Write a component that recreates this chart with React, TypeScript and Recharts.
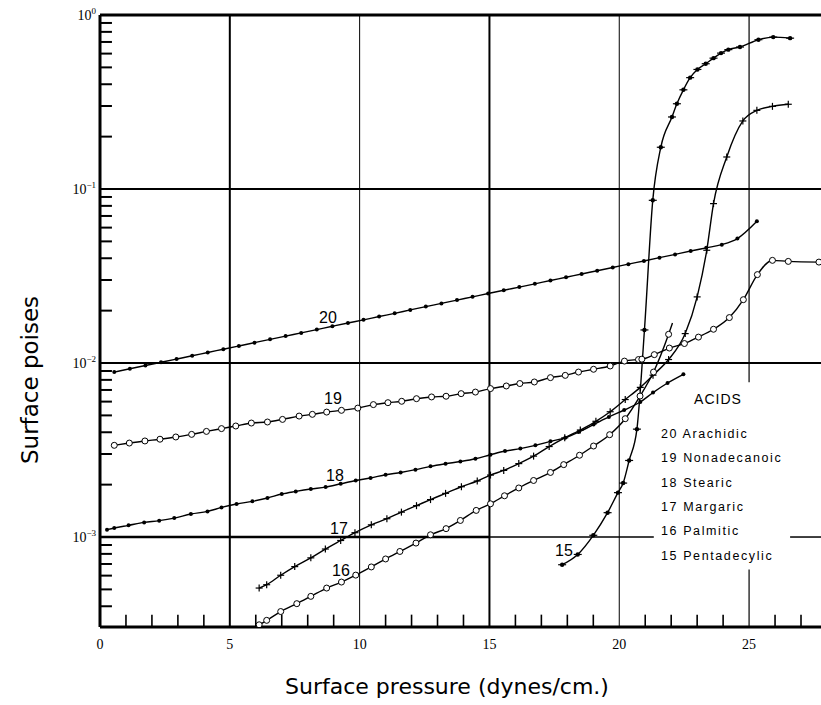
import React from "react";
import { LineChart, Line, XAxis, YAxis, ReferenceLine } from "recharts";

// axis ticks
const xTicks = [0, 5, 10, 15, 20, 25];
const xMinor = [1, 2, 3, 4, 6, 7, 8, 9, 11, 12, 13, 14, 16, 17, 18, 19, 21, 22, 23, 24, 26, 27];
const yTicks = [0.001, 0.01, 0.1, 1];
const yMinor = [
  0.0004, 0.0005, 0.0006, 0.0007, 0.0008, 0.0009,
  0.002, 0.003, 0.004, 0.005, 0.006, 0.007, 0.008, 0.009,
  0.02, 0.03, 0.04, 0.05, 0.06, 0.07, 0.08, 0.09,
  0.2, 0.3, 0.4, 0.5, 0.6, 0.7, 0.8, 0.9,
];

// 20 Arachidic
const x20 = [0.55, 1.15, 1.75, 2.35, 2.95, 3.55, 4.15, 4.75, 5.35, 5.95, 6.55, 7.15, 7.75, 8.35, 8.95, 9.55, 10.15, 10.75, 11.35, 11.95, 12.55, 13.15, 13.75, 14.35, 14.95, 15.55, 16.15, 16.75, 17.35, 17.95, 18.55, 19.15, 19.75, 20.35, 20.95, 21.55, 22.15, 22.75, 23.35, 23.95, 24.55, 25.3];
const y20 = [0.00887, 0.00927, 0.00968, 0.0101, 0.01054, 0.011, 0.0115, 0.012, 0.01253, 0.01309, 0.01368, 0.01428, 0.0149, 0.01556, 0.01626, 0.01698, 0.0177, 0.0185, 0.0193, 0.0202, 0.0211, 0.022, 0.023, 0.024, 0.0251, 0.0262, 0.0273, 0.0285, 0.0298, 0.0311, 0.0325, 0.0339, 0.0354, 0.037, 0.0386, 0.0403, 0.0421, 0.044, 0.0459, 0.0479, 0.0519, 0.0652];

// 19 Nonadecanoic
const x19 = [0.55, 1.13, 1.73, 2.31, 2.92, 3.53, 4.1, 4.68, 5.23, 5.83, 6.45, 7.03, 7.67, 8.18, 8.73, 9.3, 9.93, 10.53, 11.09, 11.62, 12.19, 12.77, 13.33, 13.91, 14.46, 15.04, 15.65, 16.17, 16.73, 17.35, 17.92, 18.43, 19.01, 19.65, 20.2, 20.74, 20.87, 21.35, 21.93, 22.51, 23.05, 23.63, 24.24, 24.78, 25.32, 25.9, 26.51, 27.69];
const y19 = [0.003365, 0.003467, 0.003565, 0.003648, 0.003758, 0.00389, 0.004046, 0.004198, 0.004345, 0.004519, 0.004581, 0.004742, 0.004955, 0.00507, 0.005224, 0.005346, 0.005508, 0.005768, 0.005916, 0.006026, 0.006237, 0.006383, 0.006442, 0.006668, 0.006808, 0.007129, 0.007379, 0.007621, 0.00778, 0.008241, 0.008492, 0.008872, 0.009204, 0.009616, 0.010257, 0.010471, 0.01052, 0.01117, 0.01219, 0.01294, 0.01409, 0.01563, 0.01824, 0.02312, 0.03221, 0.0389, 0.03837, 0.03802];

// 18 Stearic
const x18 = [0.27, 0.55, 1.1, 1.7, 2.28, 2.86, 3.5, 4.14, 4.68, 5.26, 5.87, 6.45, 7.0, 7.54, 8.12, 8.69, 9.27, 9.85, 10.42, 11.0, 11.58, 12.15, 12.73, 13.31, 13.88, 14.46, 15.04, 15.6, 16.19, 16.77, 17.35, 17.92, 18.43, 19.01, 19.6, 20.19, 20.81, 21.3, 21.86, 22.47];
const y18 = [0.001102, 0.001127, 0.001167, 0.001213, 0.001242, 0.001285, 0.001355, 0.001403, 0.001479, 0.001549, 0.001603, 0.001675, 0.001766, 0.001828, 0.001888, 0.001936, 0.002023, 0.002113, 0.002183, 0.00228, 0.00235, 0.002438, 0.002547, 0.002636, 0.002716, 0.002818, 0.002972, 0.003119, 0.003221, 0.003365, 0.003548, 0.003724, 0.004009, 0.004426, 0.004898, 0.00537, 0.00597, 0.006761, 0.007674, 0.00861];

// 17 Margaric
const x17 = [6.13, 6.42, 6.96, 7.5, 8.12, 8.68, 9.27, 9.82, 10.45, 11.05, 11.61, 12.19, 12.73, 13.31, 13.92, 14.53, 15.04, 15.55, 16.13, 16.7, 17.3, 17.9, 18.5, 19.1, 19.65, 20.23, 20.81, 21.3, 21.9, 22.54, 23.0, 23.37, 23.63, 24.14, 24.76, 25.3, 25.9, 26.51];
const y17 = [0.000509, 0.000532, 0.000603, 0.000676, 0.000759, 0.000853, 0.000955, 0.001059, 0.001175, 0.001274, 0.00139, 0.001514, 0.001641, 0.001782, 0.001945, 0.002099, 0.00227, 0.002415, 0.002642, 0.002917, 0.003311, 0.003715, 0.004121, 0.004624, 0.005248, 0.006166, 0.007244, 0.008511, 0.010471, 0.014757, 0.02399, 0.04446, 0.08241, 0.15276, 0.24604, 0.28314, 0.29854, 0.3069];

// 16 Palmitic
const x16 = [6.13, 6.42, 6.96, 7.58, 8.12, 8.73, 9.3, 9.85, 10.45, 11.0, 11.55, 12.17, 12.73, 13.33, 13.88, 14.49, 15.04, 15.58, 16.13, 16.7, 17.35, 17.86, 18.47, 19.01, 19.63, 20.23, 20.8, 21.32, 21.9, 22.05];
const y16 = [0.000313, 0.000332, 0.000373, 0.000414, 0.000456, 0.000509, 0.000551, 0.000604, 0.000673, 0.000748, 0.000826, 0.000923, 0.00103, 0.001117, 0.001245, 0.001422, 0.001552, 0.001726, 0.001914, 0.002113, 0.00235, 0.002606, 0.002951, 0.003334, 0.003873, 0.004786, 0.006457, 0.008872, 0.014622, 0.016982];

// 15 Pentadecylic
const x15 = [17.8, 18.4, 19.0, 19.55, 19.95, 20.15, 20.38, 20.68, 20.97, 21.29, 21.6, 22.03, 22.22, 22.47, 22.73, 23.01, 23.33, 23.63, 23.92, 24.2, 24.65, 25.36, 25.93, 26.58];
const y15 = [0.000693, 0.000794, 0.001023, 0.00138, 0.001799, 0.002042, 0.002754, 0.004169, 0.015488, 0.086099, 0.17378, 0.259418, 0.30903, 0.371535, 0.436516, 0.486407, 0.524807, 0.564937, 0.603949, 0.632412, 0.654636, 0.721107, 0.746449, 0.736207];

const legendItems = ["20 Arachidic", "19 Nonadecanoic", "18 Stearic", "17 Margaric", "16 Palmitic", "15 Pentadecylic"];

const zip = (xs: number[], ys: number[]) => xs.map((x, i) => ({ x, y: ys[i] }));

const s20 = zip(x20, y20);
const s19 = zip(x19, y19);
const s18 = zip(x18, y18);
const s17 = zip(x17, y17);
const s16 = zip(x16, y16);
const s15 = zip(x15, y15);

const X_MAX = 27.77;
const Y_MIN = 0.000304;
// inner tick lengths in data units (about 12px)
const X_TICK_LEN = 0.46;
const Y_TICK_BASE = 0.000306;
const Y_TICK_TOP = 0.000358;

const FilledDot = (p: any) => <circle key={`f${p.index}`} cx={p.cx} cy={p.cy} r={2} fill="#000" />;
const OpenDot = (p: any) => (
  <circle key={`o${p.index}`} cx={p.cx} cy={p.cy} r={3} fill="#fff" stroke="#000" strokeWidth={1} />
);
const OpenDot16 = (p: any) =>
  p.index === x16.length - 1 ? <g key={`o${p.index}`} /> : OpenDot(p);
const PlusDot = (p: any) => (
  <g key={`p${p.index}`}>
    <line x1={p.cx - 3.5} x2={p.cx + 3.5} y1={p.cy} y2={p.cy} stroke="#000" strokeWidth={1.2} />
    <line x1={p.cx} x2={p.cx} y1={p.cy - 3.5} y2={p.cy + 3.5} stroke="#000" strokeWidth={1.2} />
  </g>
);
const DashDot = (p: any) => (
  <g key={`d${p.index}`}>
    <line x1={p.cx - 4} x2={p.cx + 4} y1={p.cy} y2={p.cy} stroke="#000" strokeWidth={1.2} />
    <circle cx={p.cx} cy={p.cy} r={2.2} fill="#000" />
  </g>
);

const expLabel: Record<number, string> = { 1: "0", 0.1: "−1", 0.01: "−2", 0.001: "−3" };

const YTick = (p: any) => (
  <text x={96} y={p.y + 5} textAnchor="end" fontFamily="Liberation Serif, serif" fontSize={14} fill="#000">
    10
    <tspan dy={-6} fontSize={9}>{expLabel[p.payload.value]}</tspan>
  </text>
);

const XTick = (p: any) => (
  <text x={p.x} y={649} textAnchor="middle" fontFamily="Liberation Serif, serif" fontSize={14} fill="#000">
    {p.payload.value}
  </text>
);

const letterFont = "DejaVu Sans, sans-serif";

export default function App() {
  return (
    <div style={{ position: "absolute", left: 0, top: 0, width: 821, height: 705, background: "#fff" }}>
      <LineChart width={821} height={705} margin={{ top: 15, right: 0, bottom: 0, left: 0 }}>
        <XAxis
          dataKey="x"
          type="number"
          domain={[0, X_MAX]}
          ticks={xTicks}
          allowDataOverflow
          height={78}
          tickLine={false}
          tick={<XTick />}
          axisLine={{ stroke: "#000", strokeWidth: 3 }}
        />
        <YAxis
          type="number"
          scale="log"
          domain={[Y_MIN, 1]}
          ticks={yTicks}
          allowDataOverflow
          width={100}
          tickLine={false}
          tick={<YTick />}
          axisLine={{ stroke: "#000", strokeWidth: 3 }}
        />

        {/* inner minor ticks */}
        {yMinor.map((v) => (
          <ReferenceLine
            key={`ym${v}`}
            segment={[{ x: 0, y: v }, { x: X_TICK_LEN, y: v }]}
            ifOverflow="visible"
            stroke="#000"
            strokeWidth={2}
          />
        ))}
        {xMinor.map((v) => (
          <ReferenceLine
            key={`xm${v}`}
            segment={[{ x: v, y: Y_TICK_BASE }, { x: v, y: Y_TICK_TOP }]}
            ifOverflow="visible"
            stroke="#000"
            strokeWidth={1.6}
          />
        ))}

        {/* horizontal rules */}
        <ReferenceLine y={1} stroke="#000" strokeWidth={3} ifOverflow="visible" />
        <ReferenceLine y={0.1} stroke="#000" strokeWidth={2} />
        <ReferenceLine y={0.01} stroke="#000" strokeWidth={2} />
        <ReferenceLine segment={[{ x: 0, y: 0.001 }, { x: 15, y: 0.001 }]} stroke="#000" strokeWidth={2.5} ifOverflow="visible" />
        <ReferenceLine segment={[{ x: 15, y: 0.001 }, { x: 21.33, y: 0.001 }]} stroke="#000" strokeWidth={1.5} ifOverflow="visible" />
        <ReferenceLine segment={[{ x: 26.58, y: 0.001 }, { x: X_MAX, y: 0.001 }]} stroke="#000" strokeWidth={1.5} ifOverflow="visible" />

        {/* vertical rules */}
        <ReferenceLine x={5} stroke="#000" strokeWidth={2} />
        <ReferenceLine x={10} stroke="#000" strokeWidth={1} />
        <ReferenceLine x={15} stroke="#000" strokeWidth={2} />
        <ReferenceLine x={20} stroke="#000" strokeWidth={1} />
        <ReferenceLine segment={[{ x: 25, y: 1 }, { x: 25, y: 0.00774 }]} stroke="#000" strokeWidth={1.2} ifOverflow="visible" />
        <ReferenceLine segment={[{ x: 25, y: 0.00065 }, { x: 25, y: Y_MIN }]} stroke="#000" strokeWidth={1.2} ifOverflow="visible" />

        <Line data={s20} dataKey="y" type="monotone" stroke="#000" strokeWidth={1.4} dot={FilledDot} isAnimationActive={false} />
        <Line data={s19} dataKey="y" type="monotone" stroke="#000" strokeWidth={1.4} dot={OpenDot} isAnimationActive={false} />
        <Line data={s18} dataKey="y" type="monotone" stroke="#000" strokeWidth={1.4} dot={FilledDot} isAnimationActive={false} />
        <Line data={s17} dataKey="y" type="monotone" stroke="#000" strokeWidth={1.4} dot={PlusDot} isAnimationActive={false} />
        <Line data={s16} dataKey="y" type="monotone" stroke="#000" strokeWidth={1.4} dot={OpenDot16} isAnimationActive={false} />
        <Line data={s15} dataKey="y" type="monotone" stroke="#000" strokeWidth={1.4} dot={DashDot} isAnimationActive={false} />
      </LineChart>

      <svg width={821} height={705} style={{ position: "absolute", left: 0, top: 0, pointerEvents: "none" }}>
        <text
          transform="translate(30, 380) rotate(-90)"
          textAnchor="middle"
          dominantBaseline="central"
          fontFamily={letterFont}
          fontSize={23}
          fill="#000"
        >
          Surface poises
        </text>
        <text x={447} y={686} textAnchor="middle" dominantBaseline="central" fontFamily={letterFont} fontSize={22} fill="#000">
          Surface pressure (dynes/cm.)
        </text>

        <g fontFamily="Liberation Sans, sans-serif" fontSize={16} fill="#000">
          <text x={328} y={317} textAnchor="middle" dominantBaseline="central">20</text>
          <text x={333} y={398} textAnchor="middle" dominantBaseline="central">19</text>
          <text x={335} y={475} textAnchor="middle" dominantBaseline="central">18</text>
          <text x={339} y={528} textAnchor="middle" dominantBaseline="central">17</text>
          <text x={341} y={570} textAnchor="middle" dominantBaseline="central">16</text>
          <text x={564} y={550} textAnchor="middle" dominantBaseline="central">15</text>
        </g>

        <g fontFamily="Liberation Sans, sans-serif" fill="#000">
          <text x={718} y={399} textAnchor="middle" dominantBaseline="central" fontSize={14} letterSpacing={1}>
            ACIDS
          </text>
          {legendItems.map((t, i) => (
            <text key={t} x={661} y={434 + i * 24.3} dominantBaseline="central" fontSize={12.5} letterSpacing={1.6}>
              {t}
            </text>
          ))}
        </g>
      </svg>
    </div>
  );
}
